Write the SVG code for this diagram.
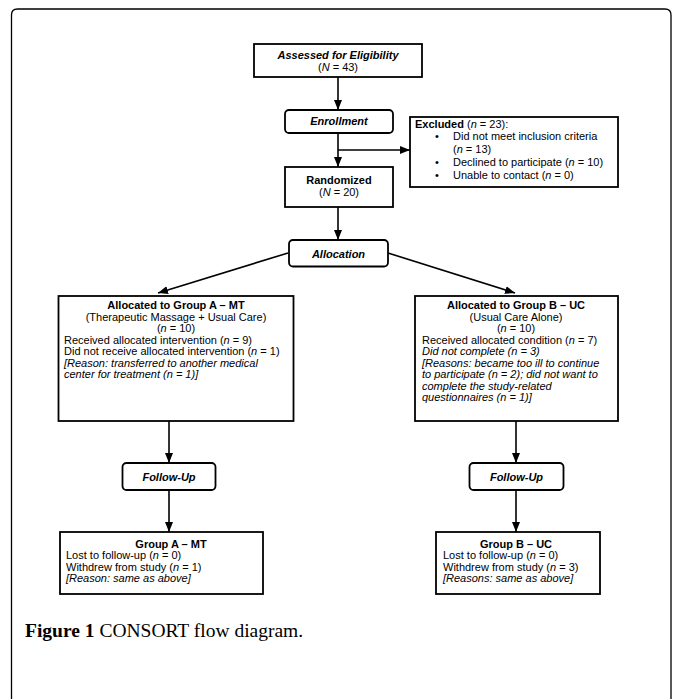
<svg xmlns="http://www.w3.org/2000/svg" width="683" height="699" viewBox="0 0 683 699">
<style>
.box{fill:#fff;stroke:#000;stroke-width:1.8}
.conn{fill:none;stroke:#000;stroke-width:1.6}
.t{font-family:"Liberation Sans",Arial,sans-serif;font-size:11px;fill:#000}
.c{text-anchor:middle}
.b{font-weight:bold}
.i{font-style:italic}
.cap{font-family:"Liberation Serif","Times New Roman",serif;font-size:19.5px;fill:#000}
</style>
<defs>
<marker id="ah" markerUnits="userSpaceOnUse" markerWidth="10" markerHeight="10" viewBox="0 0 10 10" refX="10" refY="5" orient="auto">
<path d="M0,1 L10,5 L0,9 z" fill="#000"/>
</marker>
</defs>
<rect width="683" height="699" fill="#fff"/>
<path d="M11.5,699 L11.5,15 Q11.5,9 17.5,9 L665,9 Q671,9 671,15 L671,699" fill="none" stroke="#000" stroke-width="1.3"/>

<g id="connectors">
<line class="conn" x1="338" y1="77" x2="338" y2="110" marker-end="url(#ah)"/>
<line class="conn" x1="338" y1="133" x2="338" y2="167" marker-end="url(#ah)"/>
<line class="conn" x1="338" y1="150" x2="410" y2="150" marker-end="url(#ah)"/>
<line class="conn" x1="338" y1="207" x2="338" y2="240" marker-end="url(#ah)"/>
<line class="conn" x1="288" y1="253" x2="158" y2="293" marker-end="url(#ah)"/>
<line class="conn" x1="388" y1="253" x2="515" y2="293" marker-end="url(#ah)"/>
<line class="conn" x1="169" y1="421" x2="169" y2="463" marker-end="url(#ah)"/>
<line class="conn" x1="169" y1="490" x2="169" y2="532" marker-end="url(#ah)"/>
<line class="conn" x1="516" y1="421" x2="516" y2="463" marker-end="url(#ah)"/>
<line class="conn" x1="516" y1="490" x2="516" y2="532" marker-end="url(#ah)"/>
</g>

<g id="assessed">
<rect class="box" x="254" y="44" width="168" height="33"/>
<text class="t c b i" x="338" y="59">Assessed for Eligibility</text>
<text class="t c" x="338" y="71">(<tspan class="i">N</tspan> = 43)</text>
</g>

<g id="enrollment">
<rect class="box" x="285" y="110" width="108" height="23" rx="4"/>
<text class="t c b i" x="339" y="125">Enrollment</text>
</g>

<g id="excluded">
<rect class="box" x="410" y="117" width="208" height="70"/>
<text class="t" x="415" y="128"><tspan class="b">Excluded</tspan> (<tspan class="i">n</tspan> = 23):</text>
<text class="t" x="435" y="140">•</text>
<text class="t" x="453" y="140">Did not meet inclusion criteria</text>
<text class="t" x="453" y="152.5">(<tspan class="i">n</tspan> = 13)</text>
<text class="t" x="435" y="165.5">•</text>
<text class="t" x="453" y="165.5">Declined to participate (<tspan class="i">n</tspan> = 10)</text>
<text class="t" x="435" y="178.5">•</text>
<text class="t" x="453" y="178.5">Unable to contact (<tspan class="i">n</tspan> = 0)</text>
</g>

<g id="randomized">
<rect class="box" x="285" y="167" width="108" height="40"/>
<text class="t c b" x="339" y="183.5">Randomized</text>
<text class="t c" x="339" y="196">(<tspan class="i">N</tspan> = 20)</text>
</g>

<g id="allocation">
<rect class="box" x="289" y="240" width="99" height="26.5" rx="4"/>
<text class="t c b i" x="338.5" y="257.5">Allocation</text>
</g>

<g id="groupA-alloc">
<rect class="box" x="58.5" y="296" width="235" height="125"/>
<text class="t c b" x="176" y="309">Allocated to Group A – MT</text>
<text class="t c" x="176" y="320.5">(Therapeutic Massage + Usual Care)</text>
<text class="t c" x="176" y="332">(<tspan class="i">n</tspan> = 10)</text>
<text class="t" x="64" y="343.5">Received allocated intervention (<tspan class="i">n</tspan> = 9)</text>
<text class="t" x="64" y="355">Did not receive allocated intervention (<tspan class="i">n</tspan> = 1)</text>
<text class="t i" x="64" y="366.5">[Reason: transferred to another medical</text>
<text class="t i" x="64" y="378">center for treatment (n = 1)]</text>
</g>

<g id="groupB-alloc">
<rect class="box" x="415" y="296" width="203" height="125"/>
<text class="t c b" x="516" y="309">Allocated to Group B – UC</text>
<text class="t c" x="516" y="320.5">(Usual Care Alone)</text>
<text class="t c" x="516" y="332">(<tspan class="i">n</tspan> = 10)</text>
<text class="t" x="422" y="343.5">Received allocated condition (<tspan class="i">n</tspan> = 7)</text>
<text class="t i" x="422" y="355">Did not complete (n = 3)</text>
<text class="t i" x="422" y="366.5">[Reasons: became too ill to continue</text>
<text class="t i" x="422" y="378">to participate (n = 2); did not want to</text>
<text class="t i" x="422" y="389.5">complete the study-related</text>
<text class="t i" x="422" y="401">questionnaires (n = 1)]</text>
</g>

<g id="followupA">
<rect class="box" x="122.5" y="463" width="93" height="27" rx="4"/>
<text class="t c b i" x="169" y="480.5">Follow-Up</text>
</g>

<g id="followupB">
<rect class="box" x="469.5" y="463" width="94" height="27" rx="4"/>
<text class="t c b i" x="516.5" y="480.5">Follow-Up</text>
</g>

<g id="groupA-final">
<rect class="box" x="60" y="532" width="203" height="62"/>
<text class="t c b" x="171" y="547.5">Group A – MT</text>
<text class="t" x="66" y="559">Lost to follow-up (<tspan class="i">n</tspan> = 0)</text>
<text class="t" x="66" y="570.5">Withdrew from study (<tspan class="i">n</tspan> = 1)</text>
<text class="t i" x="66" y="582">[Reason: same as above]</text>
</g>

<g id="groupB-final">
<rect class="box" x="436" y="532" width="164" height="62"/>
<text class="t c b" x="516" y="547.5">Group B – UC</text>
<text class="t" x="443" y="559">Lost to follow-up (<tspan class="i">n</tspan> = 0)</text>
<text class="t" x="443" y="570.5">Withdrew from study (<tspan class="i">n</tspan> = 3)</text>
<text class="t i" x="443" y="582">[Reasons: same as above]</text>
</g>

<text class="cap" x="25" y="637"><tspan font-weight="bold">Figure 1</tspan> CONSORT flow diagram.</text>
</svg>
